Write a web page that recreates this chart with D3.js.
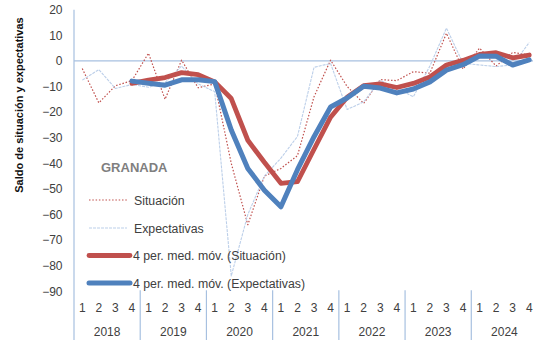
<!DOCTYPE html>
<html>
<head>
<meta charset="utf-8">
<script src="https://cdn.jsdelivr.net/npm/d3@7/dist/d3.min.js"></script>
<style>
  html, body { margin: 0; padding: 0; background: #fff; }
  svg { display: block; font-family: "Liberation Sans", Arial, sans-serif; }
</style>
</head>
<body>
<svg id="chart" width="533" height="340"></svg>
<script>
// Quarterly balance series for Granada, 2018–2024
const years = ["2018", "2019", "2020", "2021", "2022", "2023", "2024"];
const quarterLabels = ["1", "2", "3", "4"];

const situacion = [-3, -16.4, -9.7, -7.7, 3, -15, 0.3, -10.5, -9, -40, -64, -45,
  -42, -37, -14, 0.3, -10, -16.6, -7.3, -7.7, -4.2, -4.8, 10.8, -3.2, 5, -2, 3.3, 2.3];

const expectativas = [-7.5, -3.4, -10.8, -9.2, -10.3, -8.5, -2, -9, -12, -84, -60, -45,
  -38, -29.5, -2.5, -1, -19, -16, -7.6, -10.7, -14, -2, 12.8, -0.9, -1.6, -2.2, -1.6, 7.2];

const mediaSituacion = [null, null, null, -8.8, -7.5, -6.5, -4.6, -5.4, -8.2, -14.7, -31, -39.6,
  -47.8, -47.2, -34.5, -22, -14.2, -9.7, -9, -10.4, -8.8, -6.3, -1.6, 0.2, 2.5, 3.2, 1.2, 2.3];

const mediaExpectativas = [null, null, null, -7.9, -8.7, -9.5, -7.4, -7.4, -8.1, -27, -42, -50.5,
  -57, -42.5, -29.6, -18, -14.5, -9.9, -10.6, -12.5, -11, -8.2, -3.6, -1.5, 1.9, 1.8, -1.6, 0.4];

const yTicks = [20, 10, 0, -10, -20, -30, -40, -50, -60, -70, -80, -90];

const seriesNames = ["Situación", "Expectativas",
  "4 per. med. móv. (Situación)", "4 per. med. móv. (Expectativas)"];

const axisColor = "#a7c0e0";
const textColor = "#404040";

const svg = d3.select("#chart");

const plotLeft = 74, plotRight = 537.5, plotTop = 9.7, plotBottom = 291.3;

const idx = d3.range(years.length * quarterLabels.length);
const x = d3.scaleBand().domain(idx).range([plotLeft, plotRight]).padding(0);
const cx = i => x(i) + x.bandwidth() / 2;
const y = d3.scaleLinear().domain([-90, 20]).range([plotBottom, plotTop]);

// Y axis labels
const yAxis = d3.axisLeft(y).tickValues(yTicks).tickSize(0).tickPadding(0).tickFormat(d3.format("d"));
const gy = svg.append("g").attr("transform", `translate(62.5,0)`).call(yAxis);
gy.select(".domain").remove();
gy.selectAll("text").attr("fill", textColor).style("font-size", "12px");

// Vertical axis line
svg.append("line")
  .attr("x1", plotLeft).attr("x2", plotLeft)
  .attr("y1", plotTop).attr("y2", 340)
  .attr("stroke", axisColor).attr("stroke-width", 1.2);

// Horizontal zero line (category axis)
svg.append("line")
  .attr("x1", plotLeft).attr("x2", 533)
  .attr("y1", y(0)).attr("y2", y(0))
  .attr("stroke", axisColor).attr("stroke-width", 1.2);

// Year separators in the label area
const yearWidth = x.bandwidth() * quarterLabels.length;
svg.append("g").selectAll("line")
  .data(d3.range(1, years.length + 1))
  .join("line")
  .attr("x1", k => plotLeft + k * yearWidth).attr("x2", k => plotLeft + k * yearWidth)
  .attr("y1", plotBottom - 1).attr("y2", 340)
  .attr("stroke", axisColor).attr("stroke-width", 1.2);

// Quarter labels
svg.append("g").selectAll("text")
  .data(idx)
  .join("text")
  .attr("x", i => cx(i)).attr("y", 311.5)
  .attr("text-anchor", "middle")
  .attr("fill", textColor).style("font-size", "12px")
  .text(i => quarterLabels[i % 4]);

// Year labels
svg.append("g").selectAll("text")
  .data(years)
  .join("text")
  .attr("x", (d, k) => plotLeft + (k + 0.5) * yearWidth).attr("y", 336)
  .attr("text-anchor", "middle")
  .attr("fill", textColor).style("font-size", "12px")
  .text(d => d);

// Y axis title
svg.append("text")
  .attr("transform", "translate(23,105) rotate(-90)")
  .attr("text-anchor", "middle")
  .attr("fill", "#111")
  .style("font-size", "11px").style("font-weight", "bold")
  .text("Saldo de situación y expectativas");

// Series styles
const styles = [
  { data: situacion, color: "#c0504d", width: 1.2, dash: "1.5,1.8", cap: "butt" },
  { data: expectativas, color: "#bccfe9", width: 1.1, dash: "3,1", cap: "butt" },
  { data: mediaSituacion, color: "#c0504d", width: 4.8, dash: null, cap: "round" },
  { data: mediaExpectativas, color: "#4f81bd", width: 5, dash: null, cap: "round" }
];

const line = d3.line()
  .defined(d => d.v !== null)
  .x(d => cx(d.i))
  .y(d => y(d.v));

styles.forEach(s => {
  svg.append("path")
    .datum(s.data.map((v, i) => ({ i, v })))
    .attr("d", line)
    .attr("fill", "none")
    .attr("stroke", s.color)
    .attr("stroke-width", s.width)
    .attr("stroke-dasharray", s.dash)
    .attr("stroke-linejoin", "round")
    .attr("stroke-linecap", s.cap);
});

// Legend
const legend = svg.append("g");
legend.append("text")
  .attr("x", 101).attr("y", 171.5)
  .attr("fill", "#7f7f7f")
  .style("font-size", "13px").style("font-weight", "bold")
  .text("GRANADA");

const legendY = [200, 228, 255.5, 283];
const legendLen = [38, 38, 41, 41];
styles.forEach((s, k) => {
  legend.append("line")
    .attr("x1", 89).attr("x2", 89 + legendLen[k])
    .attr("y1", legendY[k]).attr("y2", legendY[k])
    .attr("stroke", s.color)
    .attr("stroke-width", s.width)
    .attr("stroke-dasharray", s.dash)
    .attr("stroke-linecap", s.cap);
  legend.append("text")
    .attr("x", k < 2 ? 134 : 133).attr("y", legendY[k] + 4.5)
    .attr("fill", textColor).style("font-size", "12.3px")
    .text(seriesNames[k]);
});
</script>
</body>
</html>
